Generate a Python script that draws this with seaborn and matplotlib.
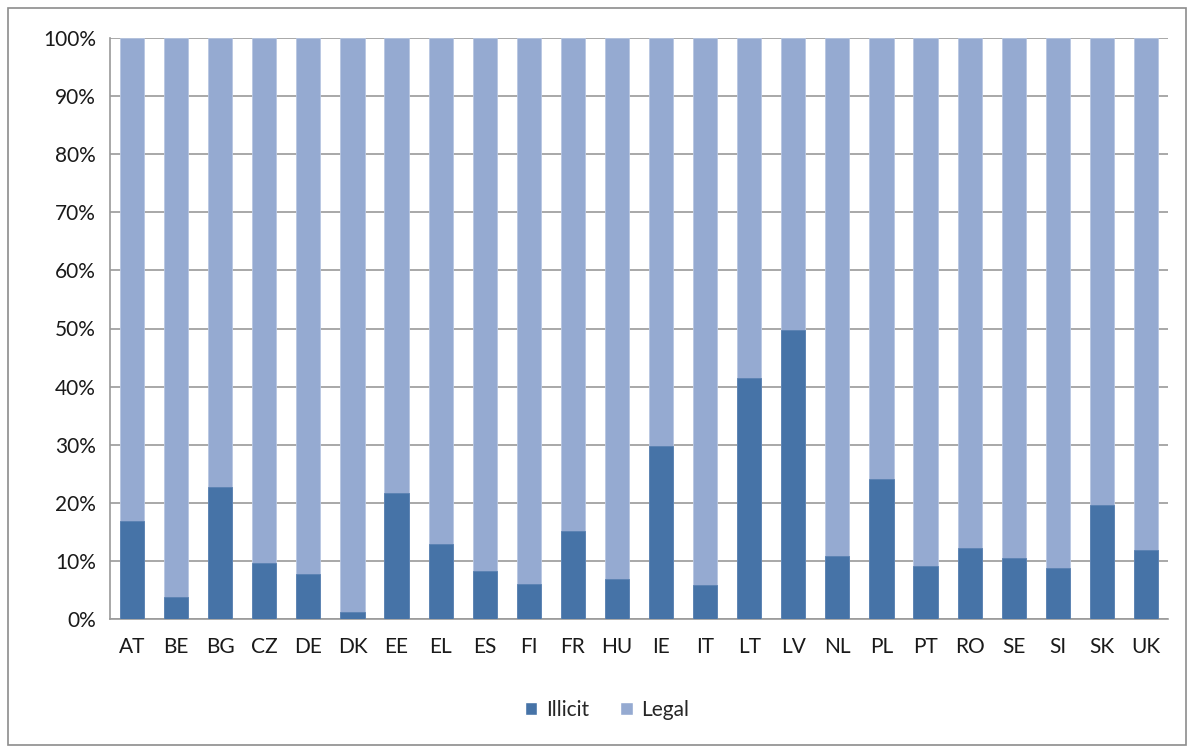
import numpy as np
import pandas as pd
import matplotlib
matplotlib.use("Agg")
import matplotlib.pyplot as plt
import seaborn as sns
from matplotlib.patches import Rectangle, Patch
from matplotlib.ticker import PercentFormatter

# --- data (share of illicit, %) ---
countries = ["AT", "BE", "BG", "CZ", "DE", "DK", "EE", "EL", "ES", "FI", "FR", "HU",
             "IE", "IT", "LT", "LV", "NL", "PL", "PT", "RO", "SE", "SI", "SK", "UK"]
illicit = [16.9, 3.8, 22.8, 9.6, 7.8, 1.2, 21.7, 12.9, 8.3, 6.0, 15.1, 6.9,
           29.7, 5.9, 41.4, 49.7, 10.9, 24.1, 9.2, 12.3, 10.5, 8.7, 19.7, 11.8]
legal = [100 - v for v in illicit]

df = pd.DataFrame({"country": countries, "Illicit": illicit, "Legal": legal})
df["total"] = df["Illicit"] + df["Legal"]

dark = "#4673A7"
light = "#95AAD1"

sns.set_style("white")
plt.rcParams["font.family"] = ["Lato", "DejaVu Sans"]

fig = plt.figure(figsize=(11.94, 7.47), dpi=100)
ax = fig.add_axes([110 / 1194, 1 - 619 / 747, 1058 / 1194, 581 / 747])

# stacked bars: full height (legal on top) then illicit over it
sns.barplot(data=df, x="country", y="total", color=light, width=0.55,
            saturation=1, edgecolor="#b8c6e2", linewidth=0.6, ax=ax, zorder=2)
sns.barplot(data=df, x="country", y="Illicit", color=dark, width=0.55,
            saturation=1, edgecolor="#5a82b2", linewidth=0.6, ax=ax, zorder=3)

ax.set_ylim(0, 100)
ax.set_xlim(-0.5, len(countries) - 0.5)
ax.set_yticks(np.arange(0, 101, 10))
ax.yaxis.set_major_formatter(PercentFormatter(decimals=0))
ax.yaxis.grid(True, color="#9a9a9a", linewidth=1.2, zorder=0)
ax.set_axisbelow(True)
ax.set_xlabel("")
ax.set_ylabel("")
ax.tick_params(axis="both", labelsize=15, colors="#1a1a1a", length=0)
ax.tick_params(axis="x", pad=13)
ax.tick_params(axis="y", pad=10)

for s in ["top", "right"]:
    ax.spines[s].set_visible(False)
for s in ["left", "bottom"]:
    ax.spines[s].set_color("#9a9a9a")
    ax.spines[s].set_linewidth(1.2)

handles = [Patch(facecolor=dark, label="Illicit"), Patch(facecolor=light, label="Legal")]
fig.legend(handles=handles, loc="center", bbox_to_anchor=(607 / 1194, 1 - 710 / 747),
           ncol=2, frameon=False, fontsize=15, handlelength=0.6, handleheight=0.6,
           handletextpad=0.4, columnspacing=1.5)

# outer chart border
fig.patches.append(Rectangle((8 / 1194, 2 / 747), 1178 / 1194, 737 / 747,
                             transform=fig.transFigure, fill=False,
                             edgecolor="#8c8c8c", linewidth=1.2))

fig.savefig("out.png", dpi=100)
